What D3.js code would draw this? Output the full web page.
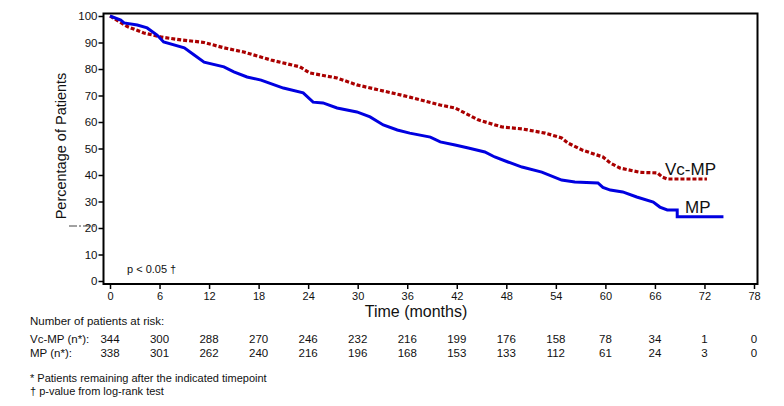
<!DOCTYPE html>
<html>
<head>
<meta charset="utf-8">
<script src="https://cdn.jsdelivr.net/npm/d3@7"></script>
<style>
body { margin: 0; background: #fff; }
text { font-family: "Liberation Sans", Arial, sans-serif; fill: #111; }
</style>
</head>
<body>
<script>
var w = 784;
var h = 406;

//Data
var months = [0, 6, 12, 18, 24, 30, 36, 42, 48, 54, 60, 66, 72, 78];
var yTicks = [0, 10, 20, 30, 40, 50, 60, 70, 80, 90, 100];
var atRiskVc = [344, 300, 288, 270, 246, 232, 216, 199, 176, 158, 78, 34, 1, 0];
var atRiskMp = [338, 301, 262, 240, 216, 196, 168, 153, 133, 112, 61, 24, 3, 0];

//Vc-MP curve [month, %]
var vcmp = [
	[0, 100], [2.1, 96], [4.1, 93.6], [6.3, 92], [8.6, 91], [11.4, 90],
	[13.8, 88], [16.2, 86.4], [19.5, 83.4], [23, 80.8], [24.2, 78.5],
	[27.5, 76.6], [29.9, 74], [32.7, 72], [36.3, 69.4], [40, 66.4],
	[41.8, 65.3], [44.6, 60.8], [47.5, 58.1], [49.9, 57.4], [52.7, 55.8],
	[54.7, 54], [55.5, 52], [57.2, 49.4], [59.7, 46.8], [60.6, 44.5],
	[61.8, 42.6], [64.2, 41], [66.3, 40.8], [66.9, 39.2], [67.5, 38.5],
	[72.3, 38.5]
];
//MP curve [month, %]
var mp = [
	[0, 100], [1.3, 98.5], [1.7, 97.4], [3.3, 96.6], [4.5, 95.5],
	[5.7, 92.8], [6.5, 90.2], [9, 88], [10.2, 85.3], [11.4, 82.6],
	[13.8, 80.8], [15, 78.9], [16.6, 77], [18.3, 75.8], [19.9, 74],
	[21, 72.8], [23.4, 71], [24.6, 67.5], [25.8, 67.2], [27.5, 65.3],
	[29.9, 63.8], [31.5, 61.9], [33.1, 58.9], [34.8, 57], [36.3, 55.8],
	[38.8, 54.3], [40, 52.5], [41.8, 51.3], [43.4, 50.2], [45.4, 48.7],
	[46.6, 46.8], [48.2, 44.9], [49.9, 43], [52.3, 41.1], [54.7, 38.1],
	[56.3, 37.4], [59.1, 37], [59.7, 35.3], [60.6, 34.3], [62.1, 33.6],
	[63.8, 31.7], [65.8, 29.8], [66.6, 27.9], [67.5, 26.8], [68.7, 26.8],
	[68.7, 24.2], [74.3, 24.2]
];

//Create svg
var svg = d3.select("body")
	.append("svg")
	.attr("width", w)
	.attr("height", h);

var x = d3.scaleLinear().domain([0, 78]).range([110, 754]);
var y = d3.scaleLinear().domain([0, 100]).range([281, 16]);

//Frame
svg.append("rect")
	.attr("x", 103.5)
	.attr("y", 13.5)
	.attr("width", 654)
	.attr("height", 270.5)
	.attr("fill", "none")
	.attr("stroke", "#000")
	.attr("stroke-width", 2);

//Y axis
var yAxis = d3.axisLeft(y)
	.tickValues(yTicks)
	.tickSize(5)
	.tickSizeOuter(0)
	.tickPadding(1);
var gy = svg.append("g")
	.attr("transform", "translate(103.5,0)")
	.call(yAxis);
gy.select(".domain").remove();
gy.selectAll("line").attr("stroke", "#000").attr("stroke-width", 1.5);
gy.selectAll("text").attr("font-size", 11.5).attr("fill", "#111")
	.attr("font-family", "Liberation Sans, Arial, sans-serif");

//X axis
var xAxis = d3.axisBottom(x)
	.tickValues(months)
	.tickSize(5)
	.tickSizeOuter(0)
	.tickPadding(3);
var gx = svg.append("g")
	.attr("transform", "translate(0,284)")
	.call(xAxis);
gx.select(".domain").remove();
gx.selectAll("line").attr("stroke", "#000").attr("stroke-width", 1.5);
gx.selectAll("text").attr("font-size", 11).attr("fill", "#111")
	.attr("font-family", "Liberation Sans, Arial, sans-serif");

//Axis titles
svg.append("text")
	.attr("transform", "translate(66,146) rotate(-90)")
	.attr("text-anchor", "middle")
	.attr("font-size", 14.5)
	.text("Percentage of Patients");
svg.append("text")
	.attr("x", 416)
	.attr("y", 317)
	.attr("text-anchor", "middle")
	.attr("font-size", 16)
	.text("Time (months)");

//small stray mark near 20
svg.append("line")
	.attr("x1", 69).attr("x2", 96)
	.attr("y1", 226).attr("y2", 226)
	.attr("stroke", "#444")
	.attr("stroke-width", 1)
	.attr("stroke-dasharray", "8,2,2,2");

//Curves
var line = d3.line()
	.x(function(d) { return x(d[0]); })
	.y(function(d) { return y(d[1]); });

svg.append("path")
	.datum(vcmp)
	.attr("d", line)
	.attr("fill", "none")
	.attr("stroke", "#aa0000")
	.attr("stroke-width", 3.2)
	.attr("stroke-dasharray", "4,2");

svg.append("path")
	.datum(mp)
	.attr("d", line)
	.attr("fill", "none")
	.attr("stroke", "#0000e0")
	.attr("stroke-width", 3);

//Curve labels
svg.append("text")
	.attr("x", 665).attr("y", 175)
	.attr("font-size", 17)
	.text("Vc-MP");
svg.append("text")
	.attr("x", 685).attr("y", 213)
	.attr("font-size", 17)
	.text("MP");

svg.append("text")
	.attr("x", 127).attr("y", 273)
	.attr("font-size", 11)
	.text("p < 0.05 \u2020");

//At risk table
svg.append("text")
	.attr("x", 30).attr("y", 325)
	.attr("font-size", 11.5)
	.text("Number of patients  at risk:");
svg.append("text")
	.attr("x", 30).attr("y", 343)
	.attr("font-size", 11.5)
	.text("Vc-MP (n*):");
svg.append("text")
	.attr("x", 30).attr("y", 357)
	.attr("font-size", 11.5)
	.text("MP (n*):");

svg.selectAll(".riskVc")
	.data(atRiskVc)
	.enter()
	.append("text")
	.attr("class", "riskVc")
	.attr("x", function(d, i) { return x(months[i]); })
	.attr("y", 343)
	.attr("text-anchor", "middle")
	.attr("font-size", 11.5)
	.text(function(d) { return d; });

svg.selectAll(".riskMp")
	.data(atRiskMp)
	.enter()
	.append("text")
	.attr("class", "riskMp")
	.attr("x", function(d, i) { return x(months[i]); })
	.attr("y", 357)
	.attr("text-anchor", "middle")
	.attr("font-size", 11.5)
	.text(function(d) { return d; });

//Footnotes
svg.append("text")
	.attr("x", 30).attr("y", 382)
	.attr("font-size", 11)
	.text("*  Patients remaining after the indicated timepoint");
svg.append("text")
	.attr("x", 30).attr("y", 395)
	.attr("font-size", 11)
	.text("\u2020  p-value from log-rank test");
</script>
</body>
</html>
